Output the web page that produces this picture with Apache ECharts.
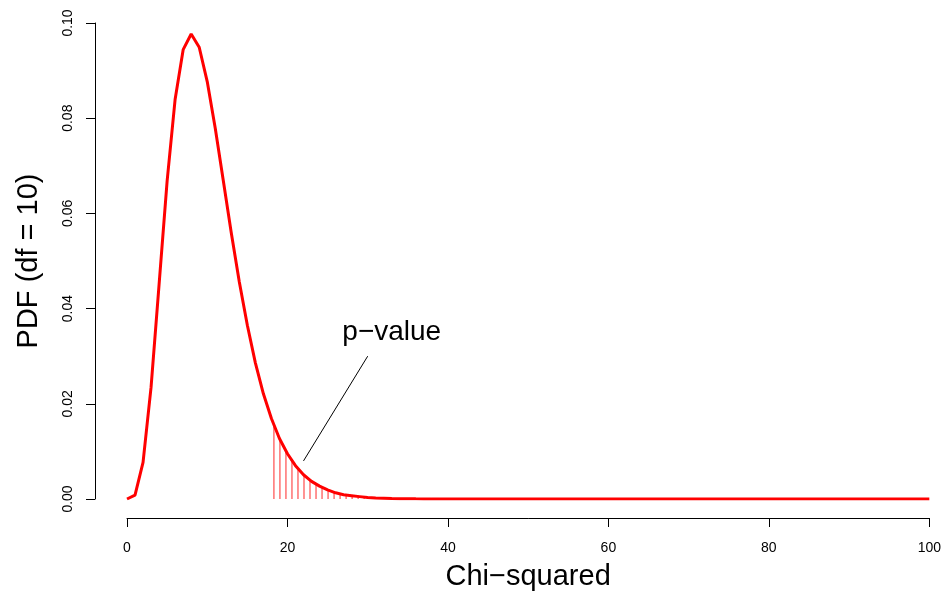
<!DOCTYPE html>
<html>
<head>
<meta charset="utf-8">
<script src="https://cdn.jsdelivr.net/npm/echarts@6/dist/echarts.min.js"></script>
<style>
  html, body { margin: 0; padding: 0; background: #fff; }
  #chart { width: 944px; height: 596px; }
</style>
</head>
<body>
<div id="chart"></div>
<script>
// chi-squared values on the x axis (0..100, one per unit)
const xValues = [
  0, 1, 2, 3, 4, 5, 6, 7, 8, 9, 10, 11, 12, 13, 14, 15, 16, 17, 18, 19, 20,
  21, 22, 23, 24, 25, 26, 27, 28, 29, 30, 31, 32, 33, 34, 35, 36, 37, 38, 39, 40,
  41, 42, 43, 44, 45, 46, 47, 48, 49, 50, 51, 52, 53, 54, 55, 56, 57, 58, 59, 60,
  61, 62, 63, 64, 65, 66, 67, 68, 69, 70, 71, 72, 73, 74, 75, 76, 77, 78, 79, 80,
  81, 82, 83, 84, 85, 86, 87, 88, 89, 90, 91, 92, 93, 94, 95, 96, 97, 98, 99, 100
]
// density
const pdfValues = [
  0, 0.0008, 0.0077, 0.0235, 0.0451, 0.0668, 0.0840, 0.0944, 0.0977, 0.0949, 0.0877,
  0.0779, 0.0669, 0.0559, 0.0456, 0.0365, 0.0286, 0.0221, 0.0169, 0.0127, 0.0095,
  0.0070, 0.0051, 0.0037, 0.0027, 0.0019, 0.0013, 0.0009, 0.0007, 0.0005, 0.0003,
  0.0002, 0.00015, 0.0001, 0.00007, 0.00005, 0.00003, 0.00002, 0.000015, 0.00001, 0.000007,
  0, 0, 0, 0, 0, 0, 0, 0, 0, 0, 0, 0, 0, 0, 0, 0, 0, 0, 0, 0,
  0, 0, 0, 0, 0, 0, 0, 0, 0, 0, 0, 0, 0, 0, 0, 0, 0, 0, 0, 0,
  0, 0, 0, 0, 0, 0, 0, 0, 0, 0, 0, 0, 0, 0, 0, 0, 0, 0, 0, 0
]
// shaded tail (vertical hatch lines)
const hatchX = [18.31, 19.06, 19.81, 20.56, 21.31, 22.06, 22.81, 23.56, 24.31, 25.06,
  25.81, 26.56, 27.31, 28.06, 28.81, 29.56, 30.31]
const hatchY = [0.0155, 0.0125, 0.0100, 0.0080, 0.0063, 0.0050, 0.0039, 0.0031, 0.0024, 0.0019,
  0.0014, 0.0011, 0.00085, 0.00065, 0.0005, 0.00038, 0.00029]
// annotation pointer and label
const pointerLine = [[22, 0.008], [30, 0.03]]
const labelPos = [33, 0.035]

const xTicks = { min: 0, max: 100, interval: 20 }
const yTicks = { min: 0, max: 0.1, interval: 0.02 }

const font = "'Liberation Sans', Arial, Helvetica, sans-serif"

const chart = echarts.init(document.getElementById('chart'))

chart.setOption({
  animation: false,
  backgroundColor: '#fff',
  grid: { left: 127, right: 14, top: 23, bottom: 95 },
  xAxis: {
    type: 'value',
    min: xTicks.min,
    max: xTicks.max,
    interval: xTicks.interval,
    offset: 19,
    name: 'Chi\u2212squared',
    nameLocation: 'middle',
    nameGap: 44,
    nameTextStyle: { fontFamily: font, fontSize: 29, color: '#000' },
    axisLine: { onZero: false, lineStyle: { color: '#000', width: 1 } },
    axisTick: { length: 9, lineStyle: { color: '#000' } },
    axisLabel: { margin: 23, fontFamily: font, fontSize: 14, color: '#000' },
    splitLine: { show: false }
  },
  yAxis: {
    type: 'value',
    min: yTicks.min,
    max: yTicks.max,
    interval: yTicks.interval,
    offset: 32,
    name: 'PDF (df = 10)',
    nameLocation: 'middle',
    nameGap: 52,
    nameTextStyle: { fontFamily: font, fontSize: 29, color: '#000' },
    axisLine: { show: true, onZero: false, lineStyle: { color: '#000', width: 1 } },
    axisTick: { show: true, length: 9, lineStyle: { color: '#000' } },
    axisLabel: {
      rotate: 90,
      margin: 20,
      fontFamily: font,
      fontSize: 14,
      color: '#000',
      formatter: v => v.toFixed(2)
    },
    splitLine: { show: false }
  },
  series: [
    {
      // hatch lines under the tail
      type: 'custom',
      silent: true,
      z: 1,
      data: hatchX.map((x, i) => [x, hatchY[i]]),
      renderItem(params, api) {
        const p0 = api.coord([api.value(0), 0])
        const p1 = api.coord([api.value(0), api.value(1)])
        return {
          type: 'line',
          shape: { x1: p0[0], y1: p0[1], x2: p1[0], y2: p1[1] },
          style: { stroke: '#ff5a5a', lineWidth: 1.3 }
        }
      }
    },
    {
      type: 'line',
      silent: true,
      z: 3,
      showSymbol: false,
      data: xValues.map((x, i) => [x, pdfValues[i]]),
      lineStyle: { color: '#ff0000', width: 3 }
    },
    {
      type: 'line',
      silent: true,
      z: 4,
      showSymbol: false,
      data: pointerLine,
      lineStyle: { color: '#000', width: 1 }
    }
  ]
})

// p-value label placed through the axes' own scales
const lp = chart.convertToPixel({ gridIndex: 0 }, labelPos)
chart.setOption({
  graphic: [{
    type: 'text',
    x: lp[0],
    y: lp[1],
    silent: true,
    style: {
      text: 'p\u2212value',
      fontFamily: font,
      fontSize: 28,
      fill: '#000',
      textAlign: 'center',
      textVerticalAlign: 'middle'
    }
  }]
})
</script>
</body>
</html>
